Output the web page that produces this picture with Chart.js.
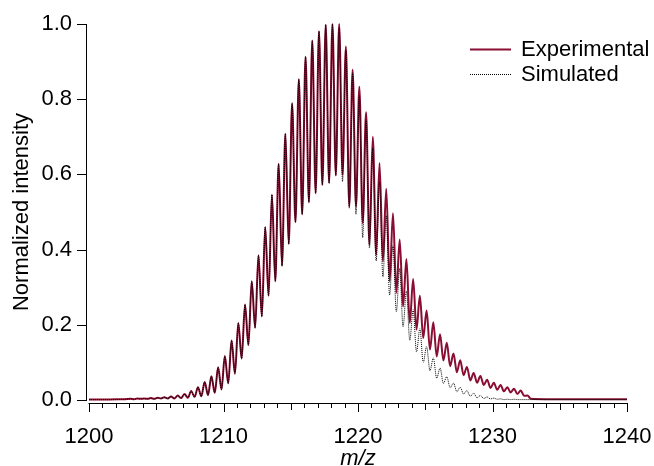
<!DOCTYPE html>
<html>
<head>
<meta charset="utf-8">
<script src="https://cdn.jsdelivr.net/npm/chart.js@4.4.1/dist/chart.umd.min.js"></script>
<style>
  html, body { margin: 0; padding: 0; background: #fff; }
  #wrap { width: 654px; height: 466px; }
</style>
</head>
<body>
<div id="wrap"><canvas id="spec" width="654" height="466"></canvas></div>
<script>
// isotope peak centres (m/z), one valley follows each peak
const peakMz = [
  1203.1, 1203.6, 1204.1, 1204.6, 1205.1, 1205.6, 1206.1, 1206.6, 1207.1, 1207.6,
  1208.1, 1208.6, 1209.1, 1209.6, 1210.1, 1210.6, 1211.1, 1211.6, 1212.1, 1212.6,
  1213.1, 1213.6, 1214.1, 1214.6, 1215.1, 1215.6, 1216.1, 1216.6, 1217.1, 1217.6,
  1218.1, 1218.6, 1219.1, 1219.6, 1220.1, 1220.6, 1221.1, 1221.6, 1222.1, 1222.6,
  1223.1, 1223.6, 1224.1, 1224.6, 1225.1, 1225.6, 1226.1, 1226.6, 1227.1, 1227.6,
  1228.1, 1228.6, 1229.1, 1229.6, 1230.1, 1230.6, 1231.1, 1231.6, 1232.1, 1232.6
];

const expPeak = [
  0.003, 0.004, 0.004, 0.005, 0.006, 0.007, 0.009, 0.012, 0.016, 0.024,
  0.034, 0.048, 0.063, 0.087, 0.117, 0.158, 0.205, 0.254, 0.316, 0.385,
  0.460, 0.546, 0.628, 0.708, 0.789, 0.853, 0.913, 0.956, 0.981, 0.998,
  1.000, 1.000, 0.940, 0.878, 0.833, 0.765, 0.700, 0.630, 0.562, 0.497,
  0.427, 0.375, 0.322, 0.277, 0.238, 0.207, 0.175, 0.152, 0.124, 0.106,
  0.088, 0.072, 0.064, 0.054, 0.046, 0.040, 0.034, 0.030, 0.025, 0.012
];
const expValley = [
  0.002, 0.003, 0.003, 0.003, 0.004, 0.004, 0.004, 0.005, 0.006, 0.008,
  0.010, 0.013, 0.019, 0.028, 0.044, 0.070, 0.110, 0.146, 0.192, 0.222,
  0.277, 0.316, 0.357, 0.415, 0.473, 0.494, 0.526, 0.550, 0.572, 0.577,
  0.597, 0.599, 0.515, 0.515, 0.471, 0.413, 0.386, 0.369, 0.316, 0.285,
  0.249, 0.205, 0.187, 0.165, 0.134, 0.116, 0.105, 0.090, 0.074, 0.066,
  0.052, 0.046, 0.040, 0.032, 0.027, 0.023, 0.020, 0.016, 0.011, 0.003
];

const simPeak = [
  0.003, 0.004, 0.004, 0.005, 0.006, 0.007, 0.009, 0.012, 0.016, 0.024,
  0.034, 0.048, 0.063, 0.087, 0.117, 0.158, 0.205, 0.254, 0.316, 0.385,
  0.460, 0.546, 0.628, 0.708, 0.789, 0.853, 0.913, 0.956, 0.981, 0.998,
  1.000, 0.990, 0.930, 0.870, 0.810, 0.745, 0.670, 0.580, 0.490, 0.410,
  0.350, 0.290, 0.240, 0.190, 0.142, 0.112, 0.085, 0.062, 0.045, 0.034,
  0.025, 0.018, 0.012, 0.008, 0.005, 0.003, 0.002, 0.002, 0.001, 0.001
];
const simValley = [
  0.002, 0.003, 0.003, 0.003, 0.004, 0.004, 0.004, 0.005, 0.006, 0.008,
  0.010, 0.013, 0.019, 0.028, 0.044, 0.070, 0.110, 0.146, 0.192, 0.222,
  0.277, 0.316, 0.357, 0.415, 0.473, 0.494, 0.526, 0.550, 0.572, 0.577,
  0.597, 0.581, 0.510, 0.494, 0.432, 0.404, 0.370, 0.327, 0.279, 0.235,
  0.195, 0.159, 0.128, 0.100, 0.078, 0.058, 0.044, 0.033, 0.022, 0.016,
  0.010, 0.006, 0.004, 0.003, 0.002, 0.001, 0.001, 0.001, 0.001, 0.001
];

// flat baseline before and after the envelope
const leadMz = [1200, 1201, 1202, 1202.6];
const expLead = [0.001, 0.001, 0.002, 0.002];
const simLead = [0.001, 0.001, 0.001, 0.002];
const trailMz = [1234, 1240];
const expTrail = [0.002, 0.002];
const simTrail = [0.001, 0.001];

const xTicks = [1200, 1210, 1220, 1230, 1240];
const yTicks = [0, 0.2, 0.4, 0.6, 0.8, 1.0];

const FONT = '"Liberation Sans", Arial, sans-serif';
const RED = '#8a0d33';

function buildSeries(lead, peaks, valleys, trail) {
  const pts = leadMz.map((m, i) => ({ x: m, y: lead[i] }));
  peakMz.forEach((m, i) => {
    pts.push({ x: m, y: peaks[i] });
    pts.push({ x: m + 0.25, y: valleys[i] });
  });
  trailMz.forEach((m, i) => pts.push({ x: m, y: trail[i] }));
  return pts;
}

// axis lines and tick marks, detached from the plot like the original
const axesPlugin = {
  id: 'axes',
  afterDraw(chart) {
    const { ctx, scales: { x, y } } = chart;
    const axY = chart.chartArea.bottom + 3;
    const axX = chart.chartArea.left - 3;
    ctx.save();
    ctx.strokeStyle = '#000';
    ctx.lineWidth = 1;
    ctx.beginPath();
    ctx.moveTo(Math.round(x.getPixelForValue(1200)) - 0.5, axY + 0.5);
    ctx.lineTo(Math.round(x.getPixelForValue(1240)) + 0.5, axY + 0.5);
    for (let v = 1200; v <= 1240; v++) {
      const px = Math.round(x.getPixelForValue(v)) + 0.5;
      const len = v % 10 === 0 ? 9 : (v % 5 === 0 ? 7 : 5);
      ctx.moveTo(px, axY);
      ctx.lineTo(px, axY + len);
    }
    ctx.moveTo(axX + 0.5, Math.round(y.getPixelForValue(1)));
    ctx.lineTo(axX + 0.5, Math.round(y.getPixelForValue(0)) + 1);
    yTicks.forEach(v => {
      const py = Math.round(y.getPixelForValue(v)) + 0.5;
      ctx.moveTo(axX, py);
      ctx.lineTo(axX - 9, py);
    });
    ctx.stroke();

    // legend
    ctx.font = '22px ' + FONT;
    ctx.fillStyle = '#000';
    ctx.textBaseline = 'middle';
    chart.data.datasets.forEach((ds, i) => {
      const ly = 49 + i * 25;
      ctx.beginPath();
      ctx.strokeStyle = ds.borderColor;
      ctx.lineWidth = ds.borderWidth;
      ctx.setLineDash(ds.borderDash || []);
      ctx.moveTo(470, ly + 0.5);
      ctx.lineTo(511, ly + 0.5);
      ctx.stroke();
      ctx.setLineDash([]);
      ctx.fillText(ds.label, 521, ly + 1);
    });
    ctx.restore();
  }
};

new Chart(document.getElementById('spec'), {
  type: 'line',
  data: {
    datasets: [
      {
        label: 'Experimental',
        data: buildSeries(expLead, expPeak, expValley, expTrail),
        borderColor: RED,
        borderWidth: 2,
        pointRadius: 0,
        cubicInterpolationMode: 'monotone',
        clip: 4,
        order: 2
      },
      {
        label: 'Simulated',
        data: buildSeries(simLead, simPeak, simValley, simTrail),
        borderColor: '#000',
        borderWidth: 1,
        borderDash: [1, 1],
        pointRadius: 0,
        cubicInterpolationMode: 'monotone',
        clip: 4,
        order: 1
      }
    ]
  },
  options: {
    responsive: false,
    animation: false,
    events: [],
    layout: { padding: { top: 24, right: 27, left: 0, bottom: 0 } },
    plugins: { legend: { display: false }, tooltip: { enabled: false } },
    scales: {
      x: {
        type: 'linear',
        min: 1200,
        max: 1240,
        grid: { display: false, drawTicks: false },
        border: { display: false },
        afterBuildTicks: s => { s.ticks = xTicks.map(v => ({ value: v })); },
        ticks: {
          color: '#000',
          font: { family: FONT, size: 22 },
          padding: 24,
          maxRotation: 0,
          autoSkip: false,
          callback: v => String(v)
        },
        title: {
          display: true,
          text: 'm/z',
          color: '#000',
          padding: 0,
          font: { family: FONT, size: 22, style: 'italic', lineHeight: '14px' }
        },
        afterFit: s => { s.height = 66; s.paddingLeft = 0; s.paddingRight = 0; }
      },
      y: {
        min: 0,
        max: 1,
        grid: { display: false, drawTicks: false },
        border: { display: false },
        afterBuildTicks: s => { s.ticks = yTicks.map(v => ({ value: v })); },
        ticks: {
          color: '#000',
          font: { family: FONT, size: 22 },
          padding: 17,
          callback: v => v.toFixed(1)
        },
        title: {
          display: true,
          text: 'Normalized intensity',
          color: '#000',
          padding: 0,
          font: { family: FONT, size: 22, lineHeight: '44px' }
        },
        afterFit: s => { s.width = 89; s.paddingTop = 0; s.paddingBottom = 0; }
      }
    }
  },
  plugins: [axesPlugin]
});
</script>
</body>
</html>
